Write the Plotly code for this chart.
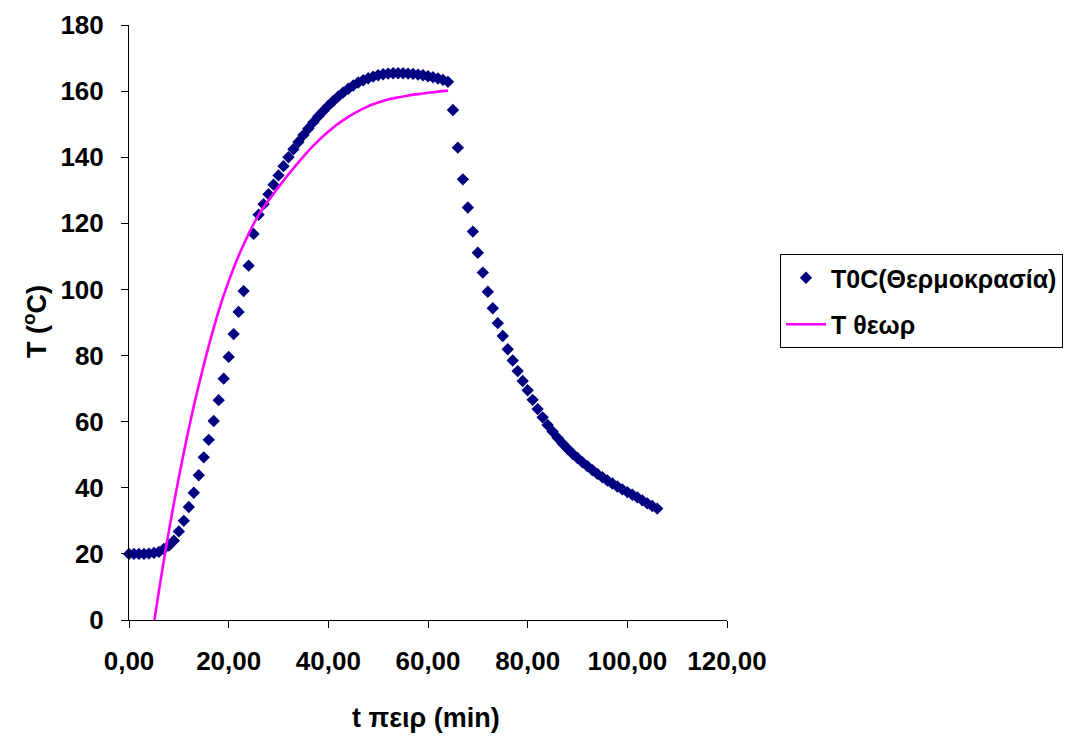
import plotly.graph_objects as go

# ---- data ----
t_exp = [0, 1, 2, 3, 4, 5, 6, 7, 8, 9, 10, 11, 12, 13, 14, 15, 16, 17, 18, 19,
         20, 21, 22, 23, 24, 25, 26, 27, 28, 29, 30, 31, 32, 33, 34, 35, 36, 37, 38, 39,
         40, 41, 42, 43, 44, 45, 46, 47, 48, 49, 50, 51, 52, 53, 54, 55, 56, 57, 58, 59,
         60, 61, 62, 63, 64, 65, 66, 67, 68, 69, 70, 71, 72, 73, 74, 75, 76, 77, 78, 79,
         80, 81, 82, 83, 84, 85, 86, 87, 88, 89, 90, 91, 92, 93, 94, 95, 96, 97, 98, 99,
         100, 101, 102, 103, 104, 105, 106]
T_exp = [20.0, 20.0, 20.0, 20.0, 20.1, 20.3, 20.6, 21.5, 22.5, 24.0, 26.8, 30.0, 34.2, 38.5, 43.8,
         49.2, 54.5, 60.2, 66.5, 73.0, 79.6, 86.5, 93.2, 99.5, 107.2, 116.8, 122.6, 125.8, 128.8, 131.7,
         134.5, 137.3, 140.0, 142.4, 144.6, 146.7, 148.7, 150.6, 152.4, 154.0, 155.6, 157.0, 158.4, 159.6,
         160.7, 161.7, 162.6, 163.3, 163.9, 164.4, 164.8, 165.1, 165.3, 165.4, 165.4, 165.4, 165.3, 165.2,
         165.0, 164.8, 164.5, 164.2, 163.8, 163.4, 162.8, 154.3, 142.9, 133.3, 124.8, 117.5, 111.1, 105.1,
         99.3, 94.3, 89.8, 85.9, 81.9, 78.5, 75.3, 72.3, 69.5, 66.6, 63.8, 61.3, 59.0, 57.0, 55.1, 53.4,
         51.8, 50.3, 49.0, 47.7, 46.5, 45.3, 44.2, 43.2, 42.2, 41.3, 40.4, 39.5, 38.7, 37.9, 37.1, 36.2,
         35.3, 34.5, 33.7]

t_theor = [5, 6, 7, 8, 9, 10, 11, 12, 13, 14, 15, 16, 17, 18, 19, 20, 21, 22, 23, 24, 25, 26,
           27, 28, 29, 30, 31, 32, 33, 34, 35, 36, 37, 38, 39, 40, 41, 42, 43, 44, 45, 46, 47,
           48, 49, 50, 52, 54, 56, 58, 60, 62, 64]
T_theor = [-1.0, 8.8, 18.1, 26.9, 35.2, 43.1, 50.7, 57.9, 64.7, 71.0, 77.1, 82.9, 88.4, 93.5,
           98.2, 102.5, 106.5, 110.2, 113.6, 116.8, 119.8, 122.5, 124.8, 126.9, 128.95, 130.95,
           132.9, 134.8, 136.65, 138.45, 140.2, 141.9, 143.5, 145.0, 146.4, 147.75, 149.0, 150.15,
           151.2, 152.2, 153.1, 153.95, 154.7, 155.4, 156.0, 156.55, 157.45, 158.1, 158.7, 159.1,
           159.5, 159.85, 160.15]

name_exp = "T0C(Θερμοκρασία)"
name_theor = "T θεωρ"
x_title = "t πειρ (min)"
y_title = "T (<sup>o</sup>C)"
x_ticks = [0, 20, 40, 60, 80, 100, 120]
y_ticks = [0, 20, 40, 60, 80, 100, 120, 140, 160, 180]

FONT = "Liberation Sans, Arial, sans-serif"

fig = go.Figure()
fig.add_trace(go.Scatter(
    x=t_exp, y=T_exp, mode="markers", name=name_exp,
    marker=dict(symbol="diamond", size=9.5, color="#000080", line=dict(width=0)),
    cliponaxis=False, legendgroup="a"))
fig.add_trace(go.Scatter(
    x=t_theor, y=T_theor, mode="lines", name=name_theor,
    line=dict(color="#FF00FF", width=2.6, shape="spline", smoothing=0.6),
    cliponaxis=False, legendgroup="b"))

L, R, T, B = 129, 346, 25, 120
W, H = 1073, 740

fig.update_layout(
    width=W, height=H,
    margin=dict(l=L, r=R, t=T, b=B, autoexpand=False),
    paper_bgcolor="white", plot_bgcolor="white",
    separators=",.",
    font=dict(family=FONT, color="black"),
    showlegend=True,
    legend=dict(
        x=(780 - L) / (W - L - R), y=(H - B - 254) / (H - T - B),
        xanchor="left", yanchor="top",
        bordercolor="black", borderwidth=1, bgcolor="white",
        font=dict(family=FONT, size=25, weight="bold", color="black"),
        traceorder="grouped", tracegroupgap=11, itemwidth=40,
    ),
    xaxis=dict(
        range=[0, 120], tickvals=x_ticks, tickformat=".2f",
        showgrid=False, zeroline=False, showline=True, linecolor="black", linewidth=1,
        ticks="outside", ticklen=7, tickcolor="black",
        tickfont=dict(family=FONT, size=26, weight="bold"),
        ticklabelstandoff=11,
    ),
    yaxis=dict(
        range=[0, 180], tickvals=y_ticks,
        showgrid=False, zeroline=False, showline=True, linecolor="black", linewidth=1,
        ticks="outside", ticklen=7, tickcolor="black",
        tickfont=dict(family=FONT, size=26, weight="bold"),
        ticklabelstandoff=12,
    ),
    annotations=[
        dict(text=x_title, xref="paper", yref="paper",
             x=(426 - L) / (W - L - R), y=-(718 - (H - B)) / (H - T - B),
             xanchor="center", yanchor="middle", showarrow=False,
             font=dict(family=FONT, size=27, weight="bold")),
        dict(text=y_title, xref="paper", yref="paper",
             x=-(L - 35) / (W - L - R), y=(H - B - 322) / (H - T - B),
             xanchor="center", yanchor="middle", showarrow=False, textangle=-90,
             font=dict(family=FONT, size=27, weight="bold")),
    ],
)

fig.write_html("out.html")
